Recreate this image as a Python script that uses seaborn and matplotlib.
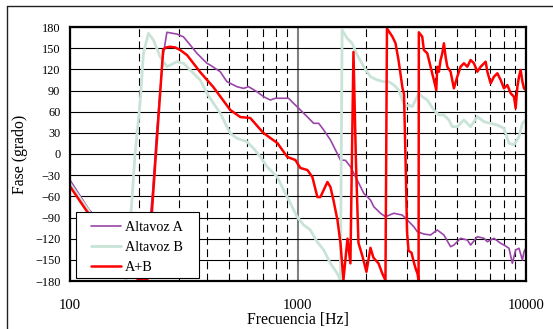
import matplotlib
matplotlib.use('Agg')
import matplotlib.pyplot as plt
import seaborn as sns
from matplotlib.lines import Line2D
from matplotlib.patches import Rectangle
from matplotlib.ticker import FixedLocator, FixedFormatter, NullFormatter

# ---------------- data ----------------
freq_a = [100, 121.2, 165.9, 215.7, 230.9, 240.5, 248.7, 257.2, 266.2, 294.4, 314.8, 337, 360.6,
          399, 412.5, 456.4, 488.5, 540.4, 577.8, 607.7, 661.7, 707.4, 757.1, 796.5, 911.1, 943,
          1025.6, 1097.6, 1173.6, 1234.4, 1298.6, 1389.5, 1487.2, 1537.7, 1618, 1701, 1821, 1947,
          2083, 2154, 2305, 2424, 2637, 2871, 3020, 3228, 3342, 3573, 3823, 4092, 4375, 4681,
          4840, 5179, 5543, 5731, 6134, 6559, 6787, 7257, 7765, 8028, 8446, 8739, 9036, 9343,
          9672, 9829, 10000]
fase_a = [-37, -79, -125, -160, -50, 34, 90.7, 142.7, 172.5, 170, 166, 154.5, 142.7,
          128.6, 126, 116.6, 102.5, 95.4, 93, 95.4, 88.3, 81.2, 76.5, 79, 79, 74,
          62.4, 53, 43.5, 43.5, 34, 20, 1, -8.5, -9, -18, -36.8, -55.7,
          -65.2, -74.7, -84, -88.9, -84, -86.5, -93.5, -103, -110, -113.4, -114.8, -107.7, -114.8, -131.4,
          -129, -119.5, -121.9, -129, -117.2, -119.5, -124.3, -119.5, -126.6, -129, -133.6, -154.9, -136, -133.6,
          -150.2, -138.5, -133.6]

freq_b = [100, 120, 150, 176.2, 185.4, 193.1, 203.1, 210, 220.9, 232.3, 248.7, 266.2, 275.2,
          294.4, 314.8, 348.3, 372.8, 404.3, 456.4, 505.1, 540.4, 597.9, 639.3, 684.3, 732.2,
          810.2, 896.6, 992, 1060.5, 1134.4, 1214.4, 1298.6, 1389.5, 1487.2, 1537.7, 1564.4,
          1646, 1731, 1821, 1947, 2083, 2229, 2383, 2506, 2637, 2773, 2871, 2969, 3069, 3177,
          3286, 3396, 3515, 3699, 3953, 4159, 4375, 4601, 4762, 5009, 5356, 5731, 6134, 6559,
          7019, 7510, 8028, 8446, 8884, 9343, 9672, 10000]
fase_b = [-42, -79, -130, -178, -82, 1.4, 72.3, 142.7, 171, 161.6, 137.9, 123.7, 126,
          130.8, 128.6, 114.4, 104.9, 83, 57.7, 29.3, 22.3, 17.4, 8, -3.8, -18,
          -32.2, -60.5, -88.9, -100.6, -107.7, -124.3, -136, -154.9, -169, -178.6, 175.7,
          164, 156.9, 140.3, 123.7, 109.6, 104.9, 102.5, 102.5, 97.8, 90.7, 76.5, 67, 69.5, 67,
          76.5, 86, 81.2, 76.5, 62.4, 55.3, 55.3, 48.2, 38.7, 38.7, 48.2, 38.7, 52.9, 45.8,
          43.5, 41.1, 36.4, 15.2, 12.8, 24.5, 43.5, 48.2]

freq_ab = [100, 117.6, 201.1, 209.4, 218.0, 256.4, 264.2, 275.2, 289.4, 304.5, 326.8, 372.8,
           425.3, 505.1, 558.9, 618.4, 705.2, 757.1, 812.7, 899.2, 975, 1025.6, 1101, 1158,
           1218, 1256, 1348, 1390, 1432, 1492, 1538, 1585, 1651, 1701, 1754, 1798, 1845, 1921,
           2000, 2041, 2083, 2147, 2259, 2352, 2424, 2461, 2603, 2683, 2766, 2879, 2923, 2953,
           2984, 3014, 3060, 3155, 3220, 3286, 3353, 3387, 3396, 3515, 3573, 3699, 3823, 3953,
           4051, 4092, 4159, 4231, 4304, 4375, 4451, 4528, 4681, 4840, 5009, 5179, 5356, 5543,
           5731, 5925, 6134, 6342, 6672, 6787, 7019, 7257, 7510, 7765, 8028, 8309, 8592, 8884,
           9036, 9194, 9343, 9506, 9672, 9829, 10000]
fase_ab = [-46, -79.4, -180, -176, -180, 148, 151, 152, 151, 147.4, 140, 116,
           95, 62.4, 52.4, 51, 30, 22.7, 15.6, -4.2, -8.5, -19.8, -22.7, -32.6,
           -61, -61, -39.7, -46.8, -65, -93.5, -126, -178.6, -120, -155, 144.6, -8.5, -126, -145,
           -167, -150, -133, -147, -155, -170, -179, 178, 166, 157, 133, 93.5, 85, 25,
           -40, -110, -137, -140, -152, -162, -170, -180, 172.5, 166.3, 147.4, 142.7, 123.7, 104.9,
           90.7, 123.7, 116.6, 133.2, 142.7, 156.9, 137.9, 123.7, 116.6, 93.1, 109.6, 123.7, 128.6, 123.7,
           133.2, 128.6, 116.6, 123.7, 130.8, 116.6, 100.2, 109.6, 114.4, 104.9, 93.1, 97.8, 86.0, 81.2,
           64.8, 95.4, 109.6, 119.1, 102.5, 93.1, 90.7]

series_labels = ['Altavoz A', 'Altavoz B', 'A+B']
x_tick_vals = [100, 1000, 10000]
x_tick_labels = ['100', '1000', '10000']
y_ticks = list(range(-180, 181, 30))

# ---------------- style ----------------
sns.set_theme(style='white')
plt.rcParams['font.family'] = ['Liberation Serif', 'DejaVu Serif']

W, H = 553, 329
fig = plt.figure(figsize=(W / 100, H / 100), dpi=100)
AX_L, AX_R, AX_T, AX_B = 70, 525.7, 27, 281
ax = fig.add_axes([AX_L / W, 1 - AX_B / H, (AX_R - AX_L) / W, (AX_B - AX_T) / H])


def px2ax(x, y):
    return ((x - AX_L) / (AX_R - AX_L), (AX_B - y) / (AX_B - AX_T))


col_a, col_b, col_ab = '#9a45a8', '#c9e4d7', '#ff0000'
sns.lineplot(x=freq_a, y=fase_a, ax=ax, color=col_a, lw=1.2, label=series_labels[0],
             sort=False, estimator=None)
sns.lineplot(x=freq_b, y=fase_b, ax=ax, color=col_b, lw=2.0, label=series_labels[1],
             sort=False, estimator=None)
sns.lineplot(x=freq_ab, y=fase_ab, ax=ax, color=col_ab, lw=1.8, label=series_labels[2],
             sort=False, estimator=None)

ax.set_xscale('log')
ax.set_xlim(100, 10000)
ax.set_ylim(-180, 180)
ax.set_yticks(y_ticks)
ax.xaxis.set_major_locator(FixedLocator(x_tick_vals))
ax.xaxis.set_major_formatter(FixedFormatter(x_tick_labels))
ax.xaxis.set_minor_locator(FixedLocator([k * 10 ** e for e in (2, 3) for k in range(2, 10)]))
ax.xaxis.set_minor_formatter(NullFormatter())

ax.set_axisbelow(True)
ax.grid(True, axis='y', which='major', color='black', lw=0.8)
ax.grid(True, axis='x', which='major', color='#808080', lw=1.5)
ax.grid(True, axis='x', which='minor', color='black', lw=0.8, linestyle=(0, (7, 4)))

ax.tick_params(which='both', length=0)
ax.tick_params(axis='x', labelsize=10.6, pad=13, colors='black')
ax.tick_params(axis='y', labelsize=8.8, pad=7, colors='black')
for s in ax.spines.values():
    s.set_visible(True)
    s.set_color('black')
    s.set_linewidth(1.6)
    s.set_zorder(6)

ax.set_xlabel('Frecuencia [Hz]', fontsize=11.3, color='black')
ax.set_ylabel('Fase (grado)', fontsize=11.3, color='black')
ax.xaxis.set_label_coords(0.5, (AX_B - 320.5) / (AX_B - AX_T))
ax.xaxis.label.set_va('center')
ax.yaxis.set_label_coords((20 - AX_L) / (AX_R - AX_L), 0.5)
ax.yaxis.label.set_va('center')

# legend box (drawn as a patch at the reference position), legend entries on top
bx0, by0 = px2ax(76, 278)
bx1, by1 = px2ax(199, 212)
ax.add_patch(Rectangle((bx0, by0), bx1 - bx0, by1 - by0, transform=ax.transAxes,
                       facecolor='white', edgecolor='black', lw=0.8, zorder=4.5))
leg = ax.legend(loc='upper left', bbox_to_anchor=px2ax(91, 220.5),
                borderaxespad=0, frameon=False, fontsize=10.3, handlelength=2.1,
                handletextpad=0.28, labelspacing=0.49, borderpad=0)
leg.set_zorder(5)
for t in leg.get_texts():
    t.set_color('black')

# outer chart border (left and top edges visible)
fig.add_artist(Line2D([6.5 / W, 6.5 / W], [0, 1 - 5.5 / H], transform=fig.transFigure,
                      color='#222222', lw=1.0))
fig.add_artist(Line2D([6.5 / W, 1], [1 - 5.5 / H, 1 - 5.5 / H], transform=fig.transFigure,
                      color='#222222', lw=1.0))

fig.savefig('out.png', dpi=100)
